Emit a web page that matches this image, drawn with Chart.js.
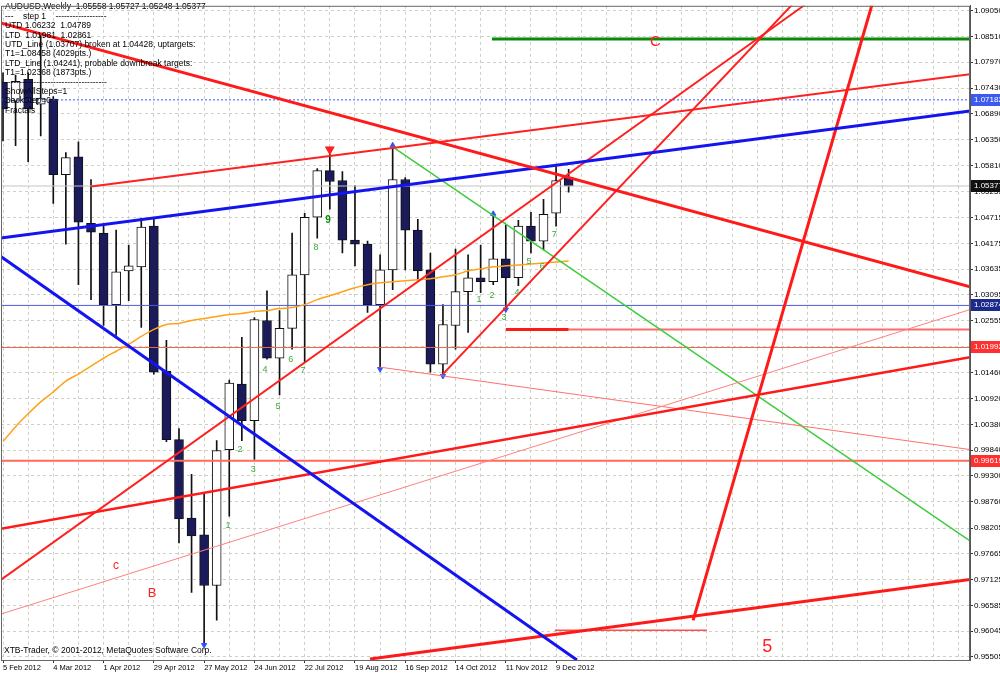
<!DOCTYPE html>
<html>
<head>
<meta charset="utf-8">
<script src="https://cdn.jsdelivr.net/npm/chart.js@4.4.0/dist/chart.umd.min.js"></script>
<style>
  html, body { margin: 0; padding: 0; background: #fff; }
  #wrap { width: 1000px; height: 673px; }
</style>
</head>
<body>
<div id="wrap"><canvas id="chart" width="1000" height="673"></canvas></div>
<script>
// AUDUSD weekly bars, index 0 = week of 5 Feb 2012
const opens  = [1.07552,1.07157,1.07614,1.07094,1.07198,1.05617,1.05991,1.04597,1.04389,1.02891,
                1.03599,1.03682,1.04535,1.01497,1.00061,0.98418,0.98064,0.97003,0.99853,1.01227,
                1.00457,1.02558,1.01767,1.02392,1.03515,1.04722,1.05700,1.05492,1.04244,1.04160,
                1.02891,1.03619,1.05513,1.04452,1.03619,1.01643,1.02454,1.03162,1.03453,1.03370,
                1.03848,1.03453,1.04535,1.04223,1.04805,1.05558];
const highs  = [1.07750,1.07700,1.07750,1.08570,1.07250,1.06075,1.06303,1.05513,1.04535,1.04452,
                1.04140,1.04701,1.04701,1.02142,1.00290,0.99333,0.98938,1.00041,1.01310,1.02205,
                1.02621,1.03182,1.02766,1.04389,1.04805,1.05742,1.06054,1.05679,1.05388,1.04223,
                1.03932,1.06199,1.05554,1.04681,1.03973,1.02891,1.04056,1.03932,1.04140,1.04764,
                1.04556,1.04660,1.04826,1.05097,1.05783,1.05727];
const lows   = [1.06324,1.06220,1.05887,1.06428,1.05013,1.04160,1.03307,1.02995,1.02454,1.02246,
                1.02974,1.02413,1.01435,1.00020,0.97897,0.96857,0.95796,0.96275,0.98459,1.00041,
                0.99645,1.01747,1.00998,1.01955,1.01684,1.04285,1.04889,1.03973,1.03703,1.02725,
                1.01580,1.03203,1.03619,1.03411,1.01476,1.01435,1.01955,1.02309,1.03141,1.03307,
                1.02829,1.03287,1.03973,1.04036,1.04535,1.05248];
const closes = [1.06990,1.07573,1.06990,1.07219,1.05617,1.05971,1.04618,1.04410,1.02891,1.03578,
                1.03703,1.04514,1.01476,1.00061,0.98397,0.98043,0.97003,0.99833,1.01247,1.00457,
                1.02579,1.01767,1.02392,1.03515,1.04722,1.05700,1.05471,1.04244,1.04160,1.02891,
                1.03619,1.05513,1.04452,1.03599,1.01643,1.02475,1.03162,1.03453,1.03370,1.03848,
                1.03453,1.04535,1.04223,1.04785,1.05492,1.05377];
// moving average
const maValues = [1.00020,1.00332,1.00602,1.00852,1.01060,1.01289,1.01435,1.01601,1.01767,1.01913,
                  1.02059,1.02225,1.02371,1.02475,1.02496,1.02558,1.02600,1.02641,1.02683,1.02704,
                  1.02745,1.02766,1.02808,1.02829,1.02891,1.02995,1.03078,1.03162,1.03245,1.03307,
                  1.03349,1.03370,1.03390,1.03411,1.03432,1.03474,1.03515,1.03599,1.03640,1.03682,
                  1.03703,1.03723,1.03744,1.03765,1.03786,1.03807];

const dateLabels = ["5 Feb 2012","4 Mar 2012","1 Apr 2012","29 Apr 2012","27 May 2012","24 Jun 2012",
                    "22 Jul 2012","19 Aug 2012","16 Sep 2012","14 Oct 2012","11 Nov 2012","9 Dec 2012"];
const priceTicks = [1.09050,1.08510,1.07970,1.07430,1.06890,1.06350,1.05810,1.05255,1.04715,1.04175,
                    1.03635,1.03095,1.02555,1.02015,1.01460,1.00920,1.00380,0.99840,0.99300,0.98760,
                    0.98205,0.97665,0.97125,0.96585,0.96045,0.95505];

// trend lines: [bar1, price1, bar2, price2]
const trendLines = [
  [-0.24, 1.08800, 76.93, 1.03266],
  [-0.24, 1.04285, 76.93, 1.06948],
  [7.00, 1.05367, 76.93, 1.07718],
  [-0.24, 1.03911, 45.66, 0.95442],
  [-0.24, 0.97107, 63.80, 1.09175],
  [35.00, 1.01435, 62.77, 1.09175],
  [54.90, 0.96274, 69.13, 1.09175],
  [29.20, 0.95463, 76.93, 0.97128],
  [-0.24, 0.98189, 76.93, 1.01788],
  [-0.24, 0.96399, 76.93, 1.02787],
  [30.00, 1.01580, 76.93, 0.99853],
  [31.00, 1.06199, 76.93, 0.97939],
  [43.90, 0.96066, 56.00, 0.96066],
  [38.90, 1.08458, 76.93, 1.08458],
  [40.00, 1.02368, 45.00, 1.02368],
  [45.00, 1.02368, 76.93, 1.02368]
];
const trendStyles = [
  ['#ff1a1a', 3], ['#1414f0', 3], ['#ff2020', 2], ['#1414f0', 3],
  ['#ff2020', 2], ['#ff2020', 2], ['#ff1a1a', 3], ['#ff1a1a', 3],
  ['#ff1a1a', 2.5], ['#ff8080', 1], ['#ff7070', 1], ['#3ccc3c', 1.5],
  ['#ff5050', 1.5], ['#0a8a0a', 3], ['#ff1a1a', 3], ['#ff6a6a', 2]
];

// horizontal levels drawn across the whole chart
const levels = [1.07182, 1.05377, 1.02874, 1.01992, 0.99619];
const levelStyles = [['#3a55ff', 1, [2, 2]], ['#c4c4c4', 1, []], ['#4a5ae0', 1, []], ['#e86a50', 1, []], ['#ff6a5a', 2, []]];
const levelBoxColors = ['#3d5af0', '#111111', '#1c2a8c', '#ff3030', '#ff3030'];

// fractal marks
const fractalDownBars = [16, 30, 35, 40];
const fractalUpBars = [31, 39];

// wave counts
const waveText = ["1","2","3","4","5","6","7","8","9","1","2","3","4","5","6","7"];
const waveBar = [17.9,18.85,19.9,20.84,21.88,22.9,23.87,24.9,25.86,37.87,38.9,39.86,40.9,41.85,42.9,43.85];
const wavePrice = [0.98251,0.99853,0.99437,1.01539,1.00748,1.01747,1.01518,1.04098,1.04660,
                   1.02995,1.03078,1.02621,1.03141,1.03786,1.03682,1.04368];

const letterText = ["C", "c", "B", "5"];
const letterBar = [51.9, 8.99, 11.85, 60.8];
const letterPrice = [1.08405, 0.97419, 0.96836, 0.95712];
const letterSize = [15, 12, 13, 18];

const infoLines = [
  "AUDUSD,Weekly  1.05558 1.05727 1.05248 1.05377",
  "---    step 1    ------------------",
  "UTD 1.06232  1.04789",
  "LTD  1.01981  1.02861",
  "UTD_Line (1.03707) broken at 1.04428, uptargets:",
  "T1=1.08458 (4029pts.)",
  "LTD_Line (1.04241), probable downbreak targets:",
  "T1=1.02368 (1873pts.)",
  "------------------------------------",
  "ShowAllSteps=1",
  "BackStep=0",
  "Fractals"
];

const X_MIN = -0.16, X_MAX = 76.93;
const idx = opens.map((_, i) => i);
const FONT = "'Liberation Sans', Arial, sans-serif";

const datasets = [];
// trend lines on top
trendLines.forEach((t, k) => {
  datasets.push({
    type: 'line',
    data: [{x: t[0], y: t[1]}, {x: t[2], y: t[3]}],
    borderColor: trendStyles[k][0],
    borderWidth: trendStyles[k][1],
    pointRadius: 0, fill: false, clip: 0, order: 1
  });
});
levels.forEach((v, k) => {
  datasets.push({
    type: 'line',
    data: [{x: X_MIN, y: v}, {x: X_MAX, y: v}],
    borderColor: levelStyles[k][0],
    borderWidth: levelStyles[k][1],
    borderDash: levelStyles[k][2],
    pointRadius: 0, fill: false, clip: 0, order: 6
  });
});
datasets.push({
  type: 'line',
  data: idx.map(i => ({x: i, y: maValues[i]})),
  borderColor: '#ffa21a', borderWidth: 1.5, pointRadius: 0, fill: false, tension: 0.3, order: 5
});
datasets.push({
  type: 'line', showLine: false,
  data: fractalDownBars.map(i => ({x: i, y: lows[i] - 0.0004})),
  pointStyle: 'triangle', pointRotation: 180, pointRadius: 3,
  pointBackgroundColor: '#3050ff', pointBorderColor: '#3050ff', order: 2
});
datasets.push({
  type: 'line', showLine: false,
  data: fractalUpBars.map(i => ({x: i, y: highs[i] + 0.0003})),
  pointStyle: 'triangle', pointRadius: 3,
  pointBackgroundColor: '#3050ff', pointBorderColor: '#3050ff', order: 2
});
datasets.push({
  type: 'line', showLine: false,
  data: [{x: 26, y: highs[26] + 0.0009}],
  pointStyle: 'triangle', pointRotation: 180, pointRadius: 5,
  pointBackgroundColor: '#ff2020', pointBorderColor: '#ff2020', order: 2
});
// candles
datasets.push({
  type: 'bar',
  data: idx.map(i => ({x: i, y: [lows[i], highs[i]]})),
  backgroundColor: '#111', barThickness: 1, grouped: false, order: 20
});
datasets.push({
  type: 'bar',
  data: idx.map(i => ({x: i, y: [opens[i], closes[i]]})),
  backgroundColor: idx.map(i => closes[i] >= opens[i] ? '#ffffff' : '#1b1b5c'),
  borderColor: '#111', borderWidth: 1, borderSkipped: false,
  barThickness: 9, grouped: false, order: 10
});

const overlay = {
  id: 'overlay',
  afterDatasetsDraw(chart) {
    const {ctx, scales: {x, y}} = chart;
    ctx.save();
    ctx.textBaseline = 'middle';
    // info block
    ctx.fillStyle = '#000';
    ctx.font = '8.5px ' + FONT;
    ctx.textAlign = 'left';
    infoLines.forEach((s, k) => ctx.fillText(s, 5, 7 + 9.4 * k));
    ctx.fillText('XTB-Trader, \u00a9 2001-2012, MetaQuotes Software Corp.', 4, 651);
    // wave counts
    ctx.textAlign = 'center';
    waveText.forEach((s, k) => {
      const bold = k === 8;
      ctx.font = (bold ? 'bold 10px ' : '9px ') + FONT;
      ctx.fillStyle = bold ? '#0a8a0a' : '#3aaa3a';
      ctx.fillText(s, x.getPixelForValue(waveBar[k]), y.getPixelForValue(wavePrice[k]));
    });
    // wave letters
    ctx.fillStyle = '#ff2020';
    letterText.forEach((s, k) => {
      ctx.font = letterSize[k] + 'px ' + FONT;
      ctx.fillText(s, x.getPixelForValue(letterBar[k]), y.getPixelForValue(letterPrice[k]));
    });
    ctx.restore();
  },
  afterDraw(chart) {
    const {ctx, chartArea: a, scales: {y}} = chart;
    ctx.save();
    ctx.strokeStyle = '#666';
    ctx.lineWidth = 1;
    ctx.strokeRect(a.left + 0.5, a.top + 0.5, a.right - a.left - 1, a.bottom - a.top);
    ctx.font = '8px ' + FONT;
    ctx.textBaseline = 'middle';
    ctx.textAlign = 'left';
    levels.forEach((v, k) => {
      const py = Math.round(y.getPixelForValue(v));
      ctx.fillStyle = levelBoxColors[k];
      ctx.fillRect(a.right + 1, py - 6, 30, 12);
      ctx.fillStyle = '#fff';
      ctx.fillText(v.toFixed(5), a.right + 4, py);
    });
    ctx.restore();
  }
};

new Chart(document.getElementById('chart'), {
  type: 'bar',
  data: { datasets },
  plugins: [overlay],
  options: {
    responsive: false,
    animation: false,
    events: [],
    layout: { autoPadding: false, padding: { left: 1, top: 1, right: 0, bottom: 0 } },
    plugins: { legend: { display: false }, tooltip: { enabled: false } },
    scales: {
      x: {
        type: 'linear', min: X_MIN, max: X_MAX, offset: false,
        grid: {
          offset: false, color: '#cfcfc4', lineWidth: 1, drawTicks: true, tickLength: 3,
          tickColor: c => (c.tick && c.tick.value % 4 === 0 && c.tick.value <= 44) ? '#333' : 'rgba(0,0,0,0)'
        },
        border: { display: true, color: '#555', dash: [3, 3] },
        ticks: {
          autoSkip: false, maxRotation: 0, minRotation: 0, align: 'start', padding: 0,
          color: '#000', font: { family: FONT, size: 7.5 },
          callback: v => (v % 4 === 0 && v / 4 < dateLabels.length) ? dateLabels[v / 4] : ''
        },
        afterBuildTicks: s => {
          const t = [];
          for (let v = 0; v <= 76; v += 2) t.push({ value: v });
          s.ticks = t;
        },
        afterFit: s => { s.height = 13; }
      },
      y: {
        type: 'linear', position: 'right', min: 0.95442, max: 1.09154, beginAtZero: false,
        grid: { color: '#cfcfc4', lineWidth: 1, drawTicks: true, tickLength: 3, tickColor: '#333' },
        border: { display: true, color: '#555', dash: [3, 3] },
        ticks: {
          padding: 1, color: '#000', font: { family: FONT, size: 8 },
          callback: v => Number(v).toFixed(5)
        },
        afterBuildTicks: s => { s.ticks = priceTicks.map(v => ({ value: v })); },
        afterFit: s => { s.width = 30; }
      }
    }
  }
});
</script>
</body>
</html>
